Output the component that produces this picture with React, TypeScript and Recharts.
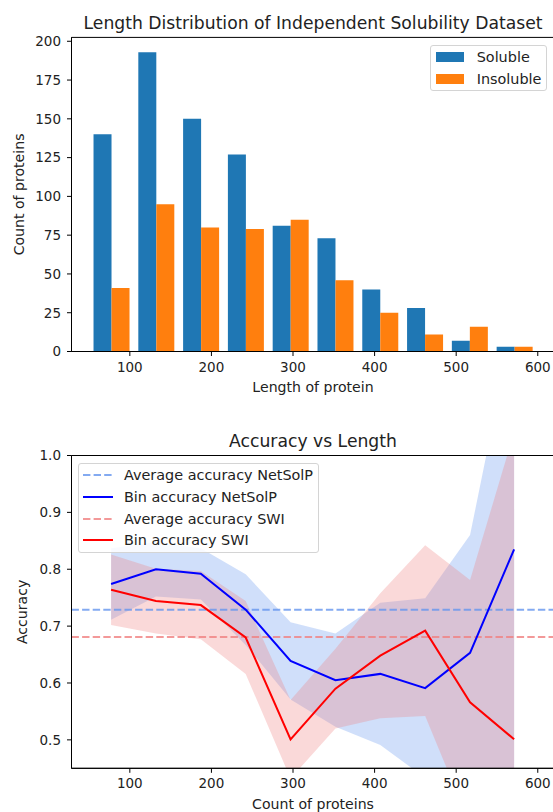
import React from 'react';
import {
  ComposedChart,
  Bar,
  XAxis,
  YAxis,
  Line,
  Area,
  ReferenceLine,
  ReferenceArea,
  Legend,
  Label,
} from 'recharts';

const FONT = '"DejaVu Sans", sans-serif';
const TEXT = '#222';

// ---------- top chart data (histogram) ----------
const binCenters = [77, 132, 187, 242, 297, 352, 407, 462, 517, 571];
const solubleCounts = [140, 193, 150, 127, 81, 73, 40, 28, 7, 3];
const insolubleCounts = [41, 95, 80, 79, 85, 46, 25, 11, 16, 3];
const histRange = [50, 599];
const lengthTicks = [100, 200, 300, 400, 500, 600];
const countTicks = [0, 25, 50, 75, 100, 125, 150, 175, 200];
const xDomain: [number, number] = [28.5, 620.5];
const countDomain: [number, number] = [0, 202.5];
const histNames = ['Soluble', 'Insoluble'];

// ---------- bottom chart data (accuracy) ----------
const lengthPoints = [77, 132, 187, 242, 297, 352, 407, 462, 517, 571];
const netsolpAcc = [0.774, 0.8, 0.792, 0.729, 0.639, 0.605, 0.616, 0.591, 0.653, 0.835];
const netsolpErr = [0.063, 0.048, 0.045, 0.062, 0.068, 0.082, 0.125, 0.158, 0.207, 0.406];
const swiAcc = [0.764, 0.744, 0.737, 0.68, 0.501, 0.59, 0.648, 0.692, 0.566, 0.501];
const swiErr = [0.062, 0.057, 0.06, 0.064, 0.069, 0.07, 0.11, 0.15, 0.215, 0.54];
const avgNetsolp = 0.729;
const avgSwi = 0.681;
const accuracyTicks = [0.5, 0.6, 0.7, 0.8, 0.9, 1.0];
const accuracyDomain: [number, number] = [0.45, 1.0];
const accNames = [
  'Average accuracy NetSolP',
  'Bin accuracy NetSolP',
  'Average accuracy SWI',
  'Bin accuracy SWI',
];

// ---------- styles ----------
const C_SOL = '#1f77b4';
const C_INS = '#ff7f0e';
const C_NET = '#0000ff';
const C_SWI = '#ff0000';
const C_NET_AVG = '#6495ED';
const C_SWI_AVG = '#F08080';

const CHART_W = 560;
const M_LEFT = 11.5;
const Y_W = 60;
const M_RIGHT = 5.5;
const TICK_FS = 13.5;
const LABEL_FS = 14.1;
const LEGEND_FS = 14.4;
const TITLE_FS = 17.2;

const histData = binCenters.map((c, i) => ({
  center: c,
  soluble: solubleCounts[i],
  insoluble: insolubleCounts[i],
}));

const accData = lengthPoints.map((x, i) => ({
  x,
  netsolp: netsolpAcc[i],
  swi: swiAcc[i],
  netBand: [netsolpAcc[i] - netsolpErr[i], netsolpAcc[i] + netsolpErr[i]],
  swiBand: [swiAcc[i] - swiErr[i], swiAcc[i] + swiErr[i]],
}));

const legendBox: React.CSSProperties = {
  border: '1px solid #d4d4d4',
  borderRadius: 3,
  background: 'rgba(255,255,255,0.85)',
  fontFamily: FONT,
  fontSize: LEGEND_FS,
  color: TEXT,
  whiteSpace: 'nowrap',
  boxSizing: 'border-box',
};

function TopLegend() {
  const colors = [C_SOL, C_INS];
  return (
    <div style={{ ...legendBox, width: 117, padding: '0px 0 1px 5px' }}>
      {histNames.map((n, i) => (
        <div key={n} style={{ display: 'flex', alignItems: 'center', height: 21.7 }}>
          <div style={{ width: 28.3, height: 10, background: colors[i], marginRight: 12.4 }} />
          <span>{n}</span>
        </div>
      ))}
    </div>
  );
}

function BottomLegend() {
  const colors = [C_NET_AVG, C_NET, C_SWI_AVG, C_SWI];
  const dashed = [true, false, true, false];
  return (
    <div style={{ ...legendBox, width: 241, padding: '0px 0 1px 4px' }}>
      {accNames.map((n, i) => (
        <div key={n} style={{ display: 'flex', alignItems: 'center', height: 21.7 }}>
          <svg width={30} height={6} style={{ marginRight: 10.7 }}>
            <line
              x1={0}
              x2={30}
              y1={3}
              y2={3}
              stroke={colors[i]}
              strokeOpacity={dashed[i] ? 0.8 : 1}
              strokeWidth={2}
              strokeDasharray={dashed[i] ? '7.4 3.2' : undefined}
            />
          </svg>
          <span>{n}</span>
        </div>
      ))}
    </div>
  );
}

const titleStyle = (top: number): React.CSSProperties => ({
  position: 'absolute',
  left: M_LEFT + Y_W,
  width: CHART_W - M_LEFT - Y_W - M_RIGHT,
  top,
  textAlign: 'center',
  fontFamily: FONT,
  fontSize: TITLE_FS,
  lineHeight: '20px',
  color: TEXT,
  whiteSpace: 'nowrap',
});

export default function App() {
  const plotW = CHART_W - M_LEFT - Y_W - M_RIGHT;
  const span = xDomain[1] - xDomain[0];
  const padL = ((histRange[0] - xDomain[0]) / span) * plotW;
  const padR = ((xDomain[1] - histRange[1]) / span) * plotW;
  const tick = { fontSize: TICK_FS, fill: TEXT };

  return (
    <div
      style={{
        position: 'absolute',
        left: 0,
        top: 0,
        width: 553,
        height: 812,
        overflow: 'hidden',
        background: '#fff',
        fontFamily: FONT,
      }}
    >
      {/* ---------- top chart ---------- */}
      <div style={{ position: 'absolute', left: 0, top: 0 }}>
        <ComposedChart
          width={CHART_W}
          height={410}
          data={histData}
          margin={{ top: 37.4, right: M_RIGHT, bottom: 18.5, left: M_LEFT }}
          barCategoryGap="10%"
          barGap={0}
        >
          <XAxis
            xAxisId="cat"
            dataKey="center"
            type="category"
            hide
            height={0}
            padding={{ left: padL, right: padR }}
          />
          <XAxis
            xAxisId="num"
            dataKey="center"
            type="number"
            domain={xDomain}
            ticks={lengthTicks}
            allowDataOverflow
            height={40}
            tick={tick}
            tickSize={4.5}
            tickMargin={6}
            stroke="#000"
          >
            <Label value="Length of protein" position="center" dy={15.5} fontSize={LABEL_FS} fill={TEXT} />
          </XAxis>
          <XAxis
            xAxisId="topSpine"
            orientation="top"
            type="number"
            domain={xDomain}
            allowDataOverflow
            height={0}
            tick={false}
            tickLine={false}
            stroke="#000"
          />
          <YAxis
            domain={countDomain}
            ticks={countTicks}
            allowDataOverflow
            width={Y_W}
            tick={tick}
            tickSize={4.5}
            tickMargin={6}
            stroke="#000"
          >
            <Label value="Count of proteins" angle={-90} position="center" dx={-23} fontSize={LABEL_FS} fill={TEXT} />
          </YAxis>
          <Bar xAxisId="cat" dataKey="soluble" name={histNames[0]} fill={C_SOL} isAnimationActive={false} />
          <Bar xAxisId="cat" dataKey="insoluble" name={histNames[1]} fill={C_INS} isAnimationActive={false} />
          <ReferenceArea
            xAxisId="num"
            x1={xDomain[0]}
            x2={xDomain[1]}
            y1={countDomain[0]}
            y2={countDomain[1]}
            fill="none"
            stroke="#000"
            strokeWidth={1}
            ifOverflow="visible"
          />
          <Legend
            layout="vertical"
            align="center"
            verticalAlign="middle"
            content={() => <TopLegend />}
            wrapperStyle={{ left: 430, top: 45, width: 'auto', height: 'auto' }}
          />
        </ComposedChart>
      </div>
      <div style={titleStyle(13.3)}>Length Distribution of Independent Solubility Dataset</div>

      {/* ---------- bottom chart ---------- */}
      <div style={{ position: 'absolute', left: 0, top: 410 }}>
        <ComposedChart
          width={CHART_W}
          height={402}
          data={accData}
          margin={{ top: 45.5, right: M_RIGHT, bottom: 3.7, left: M_LEFT }}
        >
          <XAxis
            dataKey="x"
            type="number"
            domain={xDomain}
            ticks={lengthTicks}
            allowDataOverflow
            height={40}
            tick={tick}
            tickSize={4.5}
            tickMargin={6}
            stroke="#000"
          >
            <Label value="Count of proteins" position="center" dy={15.7} fontSize={LABEL_FS} fill={TEXT} />
          </XAxis>
          <XAxis
            xAxisId="topSpine"
            orientation="top"
            type="number"
            domain={xDomain}
            allowDataOverflow
            height={0}
            tick={false}
            tickLine={false}
            stroke="#000"
          />
          <YAxis
            domain={accuracyDomain}
            ticks={accuracyTicks}
            allowDataOverflow
            width={Y_W}
            tick={tick}
            tickSize={4.5}
            tickMargin={6}
            tickFormatter={(v: number) => v.toFixed(1)}
            stroke="#000"
          >
            <Label value="Accuracy" angle={-90} position="center" dx={-19.5} fontSize={LABEL_FS} fill={TEXT} />
          </YAxis>
          <Area
            type="linear"
            dataKey="netBand"
            stroke="none"
            fill={C_NET_AVG}
            fillOpacity={0.3}
            isAnimationActive={false}
            activeDot={false}
          />
          <Area
            type="linear"
            dataKey="swiBand"
            stroke="none"
            fill={C_SWI_AVG}
            fillOpacity={0.3}
            isAnimationActive={false}
            activeDot={false}
          />
          <ReferenceLine
            y={avgNetsolp}
            stroke={C_NET_AVG}
            strokeOpacity={0.8}
            strokeWidth={2}
            strokeDasharray="7.4 3.2"
          />
          <ReferenceLine
            y={avgSwi}
            stroke={C_SWI_AVG}
            strokeOpacity={0.8}
            strokeWidth={2}
            strokeDasharray="7.4 3.2"
          />
          <Line
            type="linear"
            dataKey="netsolp"
            name={accNames[1]}
            stroke={C_NET}
            strokeWidth={2}
            dot={false}
            isAnimationActive={false}
          />
          <Line
            type="linear"
            dataKey="swi"
            name={accNames[3]}
            stroke={C_SWI}
            strokeWidth={2}
            dot={false}
            isAnimationActive={false}
          />
          <ReferenceArea
            x1={xDomain[0]}
            x2={xDomain[1]}
            y1={accuracyDomain[0]}
            y2={accuracyDomain[1]}
            fill="none"
            stroke="#000"
            strokeWidth={1}
            ifOverflow="visible"
          />
          <Legend
            layout="vertical"
            align="center"
            verticalAlign="middle"
            content={() => <BottomLegend />}
            wrapperStyle={{ left: 78.3, top: 53.3, width: 'auto', height: 'auto' }}
          />
        </ComposedChart>
      </div>
      <div style={titleStyle(431.4)}>Accuracy vs Length</div>
    </div>
  );
}
